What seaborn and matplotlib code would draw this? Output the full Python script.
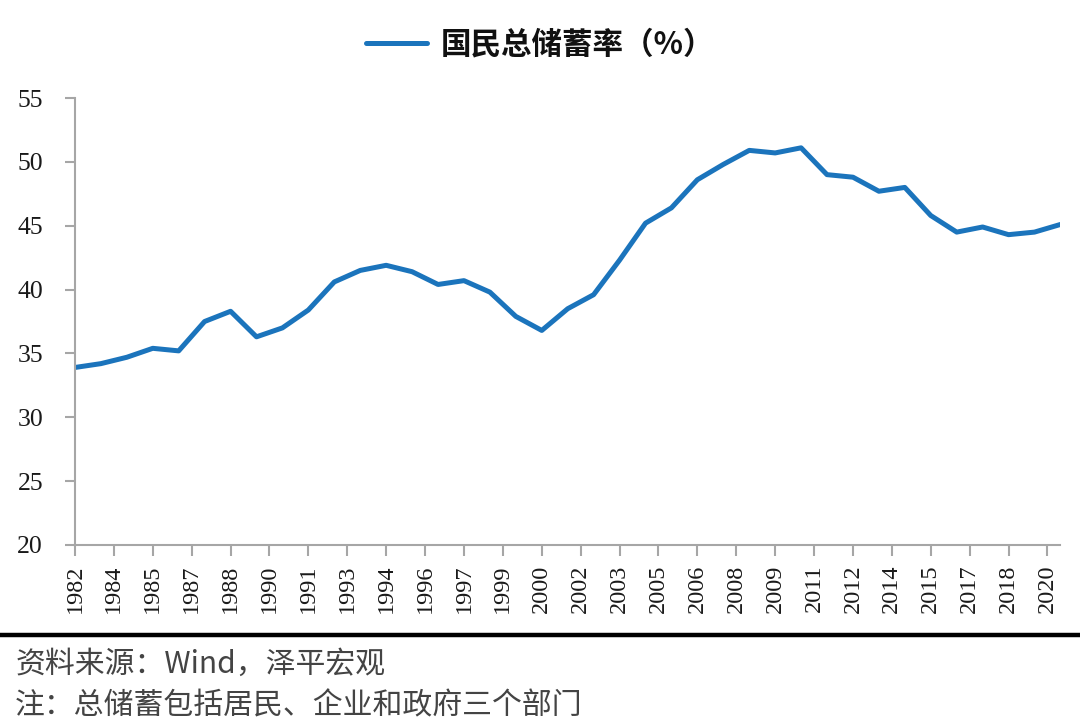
import matplotlib
matplotlib.use("Agg")
import matplotlib.pyplot as plt
from matplotlib.lines import Line2D
import seaborn as sns
import pandas as pd

# ---- data ----
years = list(range(1982, 2021))
saving_rate = [33.9, 34.2, 34.7, 35.4, 35.2, 37.5, 38.3, 36.3, 37.0, 38.4,
               40.6, 41.5, 41.9, 41.4, 40.4, 40.7, 39.8, 37.9, 36.8, 38.5,
               39.6, 42.3, 45.2, 46.4, 48.6, 49.8, 50.9, 50.7, 51.1, 49.0,
               48.8, 47.7, 48.0, 45.8, 44.5, 44.9, 44.3, 44.5, 45.1]
tick_labels = ['1982', '1984', '1985', '1987', '1988', '1990', '1991', '1993',
               '1994', '1996', '1997', '1999', '2000', '2002', '2003', '2005',
               '2006', '2008', '2009', '2011', '2012', '2014', '2015', '2017',
               '2018', '2020']
y_ticks = [20, 25, 30, 35, 40, 45, 50, 55]
series_name = '国民总储蓄率（%）'
source_text = '资料来源：Wind，泽平宏观'
note_text = '注：总储蓄包括居民、企业和政府三个部门'

dates = pd.to_datetime([f'{y}-12-31' for y in years])
df = pd.DataFrame({'date': dates, 'value': saving_rate})
tick_pos = pd.date_range(f'{years[0]}-12-31', periods=len(tick_labels), freq='18ME')

sns.set_style('white')
plt.rcParams['font.family'] = ['Noto Sans CJK SC', 'DejaVu Sans']

fig = plt.figure(figsize=(10.8, 7.25), dpi=100)
ax = fig.add_axes([0.0694, 0.2483, 0.9125, 0.6165])

line_color = '#1B74BC'
sns.lineplot(data=df, x='date', y='value', ax=ax, color=line_color,
             linewidth=3.6, label=series_name, solid_joinstyle='round',
             solid_capstyle='round')

ax.set_xlim(dates[0], dates[-1])
ax.set_ylim(20, 55)
ax.set_yticks(y_ticks)
ax.set_yticklabels([str(t) for t in y_ticks], family='Liberation Serif',
                   fontsize=18.5, color='#1a1a1a')
ax.set_xticks(tick_pos)
ax.set_xticklabels(tick_labels, rotation=90, family='Liberation Serif',
                   fontsize=17.5, color='#1a1a1a')
ax.set_xlabel('')
ax.set_ylabel('')

for s in ['top', 'right']:
    ax.spines[s].set_visible(False)
for s in ['left', 'bottom']:
    ax.spines[s].set_color('#a6a6a6')
    ax.spines[s].set_linewidth(1.5)
ax.tick_params(axis='y', which='major', direction='out', length=7, width=1.5,
               color='#a6a6a6', pad=16, left=True)
ax.tick_params(axis='x', which='major', direction='out', length=8, width=1.5,
               color='#a6a6a6', pad=6, bottom=True)
ax.grid(False)

leg = ax.legend(loc='center', bbox_to_anchor=(0.5, 0.938),
                bbox_transform=fig.transFigure, frameon=False,
                prop={'family': ['Noto Sans CJK SC', 'DejaVu Sans'],
                      'size': 22, 'weight': 'bold'},
                handlelength=2.0, handletextpad=0.45)
for t in leg.get_texts():
    t.set_color('#111111')

fig.add_artist(Line2D([0, 1], [0.124, 0.124], transform=fig.transFigure,
                      color='black', linewidth=3.2))
fig.text(0.014, 1 - 664 / 725, source_text, fontsize=21.5, color='#444444',
         va='center', ha='left', style='italic')
fig.text(0.014, 1 - 706 / 725, note_text, fontsize=21.5, color='#444444',
         va='center', ha='left', style='italic')

fig.savefig('out.png', dpi=100)
